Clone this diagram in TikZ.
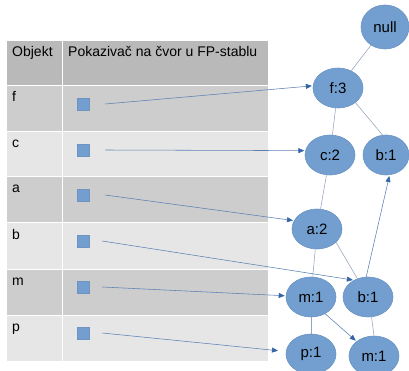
\documentclass[tikz,border=0pt]{standalone}
\usepackage{fontspec}
\setmainfont{Liberation Sans}
\usetikzlibrary{shapes.geometric,arrows.meta}
\definecolor{nodefill}{HTML}{729FCF}
\definecolor{nodeedge}{HTML}{6A93C4}
\definecolor{hdr}{HTML}{B9B9B9}
\definecolor{rowdark}{HTML}{CDCDCD}
\definecolor{rowlight}{HTML}{E6E6E6}
\definecolor{ptr}{HTML}{3465A4}
\definecolor{ptrline}{HTML}{5B80B3}
\definecolor{treeline}{HTML}{95A5B9}
\begin{document}
\begin{tikzpicture}[x=1pt,y=-1pt,
  fpnode/.style={ellipse,fill=nodefill,draw=nodeedge,line width=0.6pt,
    minimum width=50pt,minimum height=40pt,inner sep=0pt,
    font=\fontsize{15}{17}\selectfont},
  ptrbox/.style={rectangle,fill=nodefill,draw=ptr!70,line width=0.5pt,
    minimum size=12pt,inner sep=0pt},
  ptrarrow/.style={draw=ptrline,line width=0.55pt,shorten >=1pt,
    -{Triangle[length=6pt,width=5pt,color=ptr]}},
  treeedge/.style={draw=treeline,line width=0.55pt},
  celltext/.style={anchor=base west,inner sep=0pt,
    font=\fontsize{14}{16}\selectfont}]
\useasboundingbox (0,0) rectangle (409,371);
\fill[white] (0,0) rectangle (409,371);

% header of the table
\fill[hdr] (7,41) rectangle (61.5,85.5);
\fill[hdr] (62.5,41) rectangle (268,85.5);
\node[celltext] (hobj) at (12,57) {Objekt};
\node[celltext] (hptr) at (68,57) {Pokazivač na čvor u FP-stablu};

% table rows: object name and a pointer box
\foreach \rtop/\rbot/\col/\lab in {86/132/rowdark/f,132/177/rowlight/c,
    177/223/rowdark/a,223/269/rowlight/b,269/315/rowdark/m,315/361/rowlight/p}{
  \fill[\col] (7,\rtop+0.5) rectangle (61.5,\rbot-0.5);
  \fill[\col] (62.5,\rtop+0.5) rectangle (268,\rbot-0.5);
  \node[celltext] (lab\lab) at (12,\rtop+16) {\lab};
  \node[ptrbox] (sq\lab) at (83,\rtop+18) {};
}

% FP-tree
\node[fpnode,minimum width=48pt,minimum height=44pt] (null) at (385,27) {null};
\node[fpnode] (f3) at (338,88) {f:3};
\node[fpnode] (c2) at (330,155) {c:2};
\node[fpnode,minimum width=46pt] (b1u) at (386,155) {b:1};
\node[fpnode] (a2) at (317,229) {a:2};
\node[fpnode] (m1) at (311,297) {m:1};
\node[fpnode] (b1l) at (368,297) {b:1};
\node[fpnode] (p1) at (311,354) {p:1};
\node[fpnode] (m1l) at (374,356) {m:1};

\draw[treeedge] (null) -- (f3);
\draw[treeedge] (f3) -- (c2);
\draw[treeedge] (f3.-40) -- (b1u.100);
\draw[treeedge] (c2) -- (a2);
\draw[treeedge] (a2) -- (m1);
\draw[treeedge] (a2.-35) -- (b1l.120);
\draw[treeedge] (m1) -- (p1);
\draw[treeedge] (b1l.-80) -- (m1l.north);

% node-link arrows inside the tree
\draw[ptrarrow] (b1l.95) -- (b1u.-80);
\draw[ptrarrow] (m1.-50) -- (m1l.140);

% pointers from the table into the tree
\draw[ptrarrow] ([xshift=16pt]sqf.east) -- (f3.175);
\draw[ptrarrow] ([xshift=16pt]sqc.east) -- (c2.170);
\draw[ptrarrow] ([xshift=16pt]sqa.east) -- (a2.160);
\draw[ptrarrow] ([xshift=13pt]sqb.east) -- (b1l.130);
\draw[ptrarrow] ([xshift=13pt]sqm.east) -- (m1);
\draw[ptrarrow,shorten >=8pt] ([xshift=13pt]sqp.east) -- (p1);
\end{tikzpicture}
\end{document}
